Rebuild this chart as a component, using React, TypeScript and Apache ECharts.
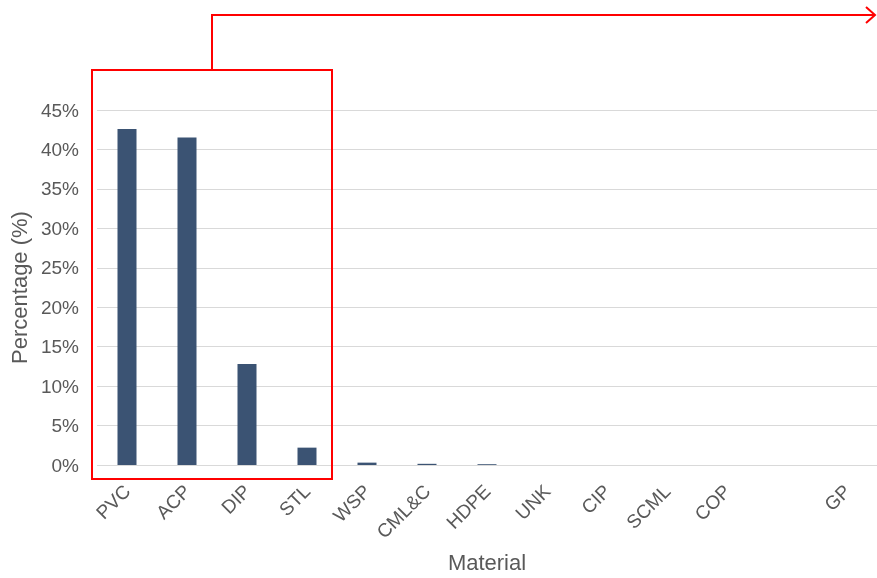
import React, { useEffect, useRef } from "react";
import * as echarts from "echarts";

const categories = ["PVC", "ACP", "DIP", "STL", "WSP", "CML&C", "HDPE", "UNK", "CIP", "SCML", "COP", "", "GP"];
const percentages = [42.6, 41.5, 12.8, 2.2, 0.3, 0.15, 0.1, 0, 0, 0, 0, 0, 0];
const yTicks = { min: 0, max: 45, interval: 5 };

export default function App() {
  const ref = useRef<HTMLDivElement>(null);
  useEffect(() => {
    const chart = echarts.init(ref.current!, null, { renderer: "svg" });
    const font = "Liberation Sans, Arial, sans-serif";
    chart.setOption({
      animation: false,
      grid: { left: 97, right: 0, top: 110, bottom: 112 },
      xAxis: {
        type: "category",
        data: categories,
        name: "Material",
        nameLocation: "middle",
        nameGap: 86,
        nameTextStyle: { fontSize: 22, color: "#595959", fontFamily: font },
        axisLine: { show: false },
        axisTick: { show: false },
        axisLabel: { rotate: 45, fontSize: 19, color: "#595959", fontFamily: font, margin: 23, interval: 0 },
      },
      yAxis: {
        type: "value",
        min: yTicks.min,
        max: yTicks.max,
        interval: yTicks.interval,
        name: "Percentage (%)",
        nameLocation: "middle",
        nameGap: 63,
        nameTextStyle: { fontSize: 22, color: "#595959", fontFamily: font },
        axisLabel: { formatter: "{value}%", fontSize: 19, color: "#595959", fontFamily: font, margin: 18 },
        splitLine: { lineStyle: { color: "#d9d9d9", width: 1 } },
        axisLine: { show: false },
        axisTick: { show: false },
      },
      series: [
        {
          type: "bar",
          data: percentages,
          barWidth: 19,
          itemStyle: { color: "#3b5373" },
        },
      ],
      graphic: [
        {
          type: "rect",
          shape: { x: 92, y: 70, width: 240, height: 409 },
          style: { fill: "none", stroke: "#ff0000", lineWidth: 2 },
          z: 100,
        },
        {
          type: "polyline",
          shape: { points: [[212, 70], [212, 15], [875, 15]] },
          style: { fill: "none", stroke: "#ff0000", lineWidth: 2 },
          z: 100,
        },
        {
          type: "polyline",
          shape: { points: [[866, 7], [875, 15], [866, 23]] },
          style: { fill: "none", stroke: "#ff0000", lineWidth: 2 },
          z: 100,
        },
      ],
    });
    return () => chart.dispose();
  }, []);
  return <div ref={ref} style={{ position: "fixed", left: 0, top: 0, width: 877, height: 578 }} />;
}
